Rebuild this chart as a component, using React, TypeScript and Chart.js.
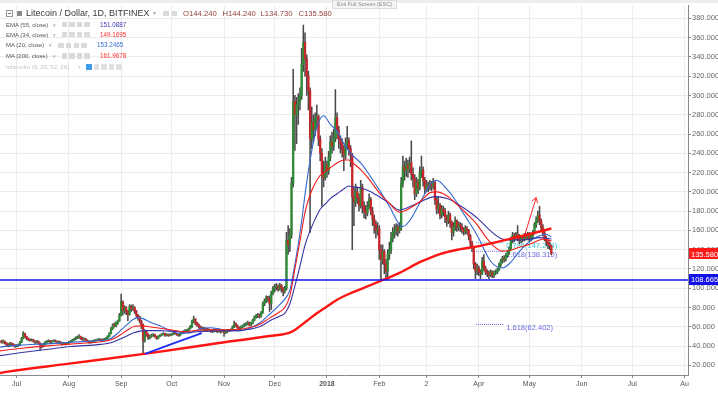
import React, { useEffect, useRef } from "react";
import { Chart, registerables } from "chart.js";

Chart.register(...registerables);

const FONT = '"Liberation Sans", Arial, sans-serif';

// ---- daily candles, day 0 = 1 Jul 2017 ----
const FIRST_DAY = -9; // 22 Jun 2017
const FIRST_OPEN = 45;

const closes = [
  44, 45, 43, 42, 40, 43, 42, 41, 40, // Jun
  40.5, 41, 44, 48, 53, 50, 48, 47, 46, 46.5, 45, 44, 45, 43, 41, 40, 42, 44, 45, 45.5, 44, 45, 45.5, 45, 44, 44.5, 43, 42, 43, 42, 43, // Jul
  44, 45, 46, 47, 48, 49, 50, 48, 47, 47.5, 46, 45, 44, 44.5, 45, 45.5, 46, 46.5, 47, 46, 46.5, 47, 48, 50, 53, 58, 62, 61, 64, 66, 72, // Aug
  86, 77, 80, 76, 73, 81, 79, 80, 76, 72, 70, 66, 62, 46, 55, 52, 49, 50, 51, 52, 50, 48, 50, 51, 52, 53, 51, 52, 51, 52, // Sep
  52, 54, 53, 52, 51, 53, 54, 55, 56, 56.5, 58, 60, 66, 68, 64, 62, 60, 58, 59, 57, 58, 56, 57, 56, 55, 57, 56, 55, 56, 55, 56, // Oct
  54, 55, 56, 56.5, 57, 60, 63, 61, 59, 58, 60, 61, 62, 63, 64, 62, 64, 67, 70, 71, 72, 71, 75, 84, 87, 90, 89, 84, 95, 100, // Nov
  101, 102, 99, 103, 100, 97, 100, 150, 145, 155, 209, 294, 280, 290, 293, 300, 332, 355, 338, 320, 305, 255, 272, 265, 276, 278, 255, 240, 220, 215, 228, // Dec
  222, 236, 252, 247, 256, 277, 264, 255, 250, 244, 238, 250, 253, 245, 238, 195, 190, 200, 194, 186, 205, 185, 180, 178, 184, 192, 180, 172, 166, 160, 162, // Jan
  140, 130, 138, 125, 118, 135, 140, 152, 158, 160, 163, 160, 163, 209, 226, 222, 228, 224, 230, 218, 214, 198, 210, 204, 220, 223, 212, 203, // Feb
  207, 205, 208, 206, 210, 192, 182, 186, 176, 182, 180, 174, 170, 176, 168, 158, 164, 170, 163, 166, 164, 161, 159, 162, 160, 154, 147, 142, 125, 118, 121, // Mar
  117, 115, 128, 121, 117, 116, 114, 117, 113, 116, 117, 119, 124, 128, 131, 130, 134, 137, 141, 150, 155, 152, 156, 152, 150, 153, 151, 155, 152, 156, // Apr
  150, 154, 158, 166, 171, 176, 170, 163, 157, 152, 148, 146, 144.24, 135.58, // May
];

const highs = [
  46, 46.5, 45.5, 44, 42.5, 44, 43.5, 42.5, 41.5,
  41.5, 42, 45, 49, 55, 53.5, 50.5, 48.5, 47.5, 47.5, 47, 45.5, 46, 45.5, 43.5, 42, 43, 45, 46, 46.5, 46, 46, 46.5, 46.5, 45.5, 45.5, 45, 43.5, 44, 43.5, 44,
  45, 46, 47, 48, 49.5, 50.5, 52, 50.5, 49, 48.5, 48, 46.5, 45.5, 45.5, 46, 46.5, 47, 47.5, 48, 47.5, 47.5, 48, 49, 51, 54, 59.5, 63, 64, 65.5, 67, 74,
  94, 87, 82, 81, 77, 83, 82.5, 83, 81, 77, 73, 71, 67, 63, 57, 56, 53, 51.5, 52.5, 53, 52.5, 50.5, 51, 52, 53, 54, 53.5, 53, 52.5, 53,
  53, 55, 54.5, 53.5, 52.5, 54, 55, 56, 57, 57.5, 59, 61.5, 67, 71, 68.5, 65, 63, 61, 60, 59.5, 59, 58.5, 58, 57.5, 56.5, 58, 57.5, 56.5, 57, 56.5, 57,
  56.5, 56, 57, 57.5, 58, 61, 66, 64, 62, 60, 61, 62, 63.5, 64.5, 66, 65, 65, 68, 71.5, 73, 74, 73.5, 76, 86, 89, 92, 91.5, 92, 97, 102,
  104, 105, 103.5, 105, 104, 101, 102, 158, 165, 162, 215, 327, 300, 298, 302, 308, 349, 373, 365, 342, 325, 308, 288, 280, 282, 290, 280, 258, 245, 232, 236,
  232, 242, 258, 262, 265, 306, 282, 268, 258, 255, 248, 256, 268, 256, 248, 240, 205, 208, 205, 198, 212, 208, 190, 186, 190, 198, 194, 184, 176, 170, 168,
  165, 145, 145, 140, 130, 140, 148, 158, 163, 166, 167, 166, 168, 215, 237, 232, 235, 233, 236, 253, 225, 218, 215, 213, 226, 237, 226, 215,
  212, 210, 212, 211, 214, 211, 194, 195, 188, 186, 185, 183, 176, 180, 178, 170, 168, 174, 171, 169, 168, 167, 163, 165, 164, 161, 156, 149, 143, 127, 125,
  123, 119, 132, 135, 123, 119, 118, 119, 118, 118, 119, 121, 126, 130, 133, 134, 136, 139, 143, 153, 158, 157, 158, 165, 156, 155, 155, 157, 157, 158,
  158, 157, 160, 168, 174, 180, 185, 172, 166, 159, 154, 150, 148, 144.24,
];

const lows = [
  43, 43, 42, 40.5, 39, 39.5, 41, 40, 38.5,
  39, 39.5, 40.5, 43.5, 47.5, 48.5, 46.5, 45.5, 45, 45, 44, 42.5, 43, 42, 35.5, 38, 39, 41.5, 43, 44, 43, 43.5, 44.5, 44, 43, 43, 42, 41, 41.5, 41, 41.5,
  42.5, 43.5, 44.5, 45.5, 46.5, 47.5, 48, 47, 46, 46, 45, 44, 43, 43, 43.5, 44.5, 45, 45.5, 45.5, 45, 45.5, 46, 46.5, 47.5, 49.5, 52.5, 57, 59.5, 60, 62.5, 65.5,
  71, 72, 74, 72.5, 66, 72, 76, 77, 74, 70, 67, 64, 58, 32, 44, 50, 47, 47.5, 49, 50, 49, 47, 47.5, 49.5, 50.5, 51.5, 50, 50.5, 50, 50.5,
  51, 51.5, 52, 51, 50, 50.5, 52.5, 53.5, 54.5, 55, 55.5, 57.5, 59, 64, 62, 60.5, 58.5, 56.5, 57, 56, 56, 55, 55.5, 54.5, 54, 54.5, 55, 54, 54.5, 53.5, 54.5,
  50, 53, 54, 55, 55.5, 56.5, 59, 60, 58, 56.5, 57, 59, 60, 61, 62, 61, 61, 63, 66, 69, 69.5, 69, 70, 74, 82, 85, 86, 76, 78, 93,
  96, 98, 97, 98, 96, 92, 95, 98, 135, 138, 152, 205, 243, 250, 270, 285, 296, 325, 320, 300, 285, 158, 245, 252, 258, 266, 248, 232, 185, 205, 212,
  215, 218, 232, 240, 243, 252, 255, 245, 240, 236, 222, 234, 244, 238, 226, 140, 165, 185, 188, 180, 183, 178, 173, 172, 175, 182, 176, 165, 157, 152, 155,
  130, 107, 125, 115, 110, 108, 130, 136, 148, 152, 155, 154, 157, 160, 205, 212, 216, 215, 220, 212, 205, 192, 195, 198, 202, 215, 206, 198,
  200, 200, 202, 201, 203, 187, 177, 178, 172, 173, 175, 168, 164, 167, 163, 150, 154, 160, 159, 160, 159, 157, 155, 156, 156, 150, 143, 138, 120, 110, 114,
  113, 110, 114, 118, 114, 112, 110, 112, 111, 111, 114, 115, 118, 122, 126, 127, 128, 132, 135, 140, 147, 148, 150, 149, 146, 147, 148, 149, 150, 150,
  148, 149, 152, 156, 163, 168, 166, 160, 154, 149, 144, 141, 140, 134.73,
];

// ---- indicator lines: [day, value] ----
const ma20Pts = [[-10,39],[2,41],[20,42.5],[32,44],[50,45.8],[55,47],[61,55],[64,60],[66,63],[69,67.5],[72,69.5],[75,68.5],[79,65],[85,61],[91,56],[97,53],[103,53.5],[109,58],[115,59],[121,57.5],[127,56],[132,56],[138,58.6],[144,64],[150,73],[156,83],[160,91],[162,98],[165,125],[168,157],[172,210],[176,252],[179,272],[182,279],[186,270],[190,263],[194,250],[198,240],[204,230],[209,218],[215,202],[221,185],[227,166],[229,164],[233,170],[237,182],[242,198],[245,207],[249,212],[255,203],[261,189],[264,180],[267,172],[273,155],[281,128],[288,121],[293,127],[298,138],[303,147],[308,153],[314,156],[317,153.25]];
const ema34Pts = [[-10,35],[2,37.5],[20,40.5],[32,42],[50,44.5],[56,46.5],[61,51],[66,57],[70,60.5],[74,61],[79,60],[85,58.5],[91,57],[100,55],[106,56],[112,57],[121,57],[132,57.5],[138,59.3],[144,62.5],[150,69],[156,75.6],[159,80],[162,92],[165,120],[168,149],[171,179],[174,197],[177,209],[180,217],[183,221],[186,225],[190,230],[194,233],[197,233],[200,229],[204,223],[209,213],[215,199],[221,188],[227,179],[231,181],[235,185],[240,191],[245,199],[249,200],[255,196],[261,187],[267,177],[273,166],[278,153.5],[283,143.5],[288,138.5],[293,139.5],[298,142.5],[303,145],[308,148.5],[312,151],[317,149.17]];
const ema55Pts = [[-10,30],[2,33],[20,37],[32,39.5],[50,41.8],[56,43.5],[61,47],[66,51],[70,54],[75,56],[79,56],[85,56],[91,55.5],[103,54.5],[109,55],[121,56],[132,56],[138,57.5],[144,60],[150,66],[156,71],[159,74],[162,83.6],[165,102.5],[168,123],[171,144.8],[174,159.7],[177,171.7],[180,181.9],[183,187.4],[186,193],[190,198],[194,203],[197,206],[200,205],[204,204],[209,201],[215,195],[221,188],[227,181],[231,183],[235,186],[240,190],[245,194],[249,195],[255,193],[261,188],[267,181],[273,173],[280,161],[288,151],[295,150],[303,150.5],[310,152.5],[317,151.09]];
const ma200Pts = [[-10,12],[-6,13.3],[30,21.5],[79,32.7],[120,43.2],[150,50.5],[162,54],[166,58],[172,66],[178,74],[184,81],[190,88],[197,94],[204,99],[215,107],[227,116],[239,127],[251,135.5],[263,140.5],[275,144],[292,151],[305,156.5],[317,161.97]];

// ---- drawings ----
const trendPts = [[76.2, 32.0], [109.8, 53.5]];
const arrowPts = [[301.4, 156.1], [308.0, 194.0]];
const arrowHeadPts = [[305.4, 190.5], [308.0, 194.0], [308.8, 188.3]];
const supportLevel = 108.665;
const lastClose = 135.58;
const fibLevels = [147.279, 138.31, 62.402];
const fibLabels = ["0.786(147.279)", "1.618(138.310)", "1.618(62.402)"];
const fibSpan = [272.4, 288.5];

// ---- axes ----
const X_MIN = -9.8;
const X_MAX = 398;
const Y_MIN = 10;
const Y_MAX = 393.3;
const monthTickDays = [0, 31, 62, 92, 123, 153, 184, 215, 243, 274, 304, 335, 365, 396];
const monthTickLabels = ["Jul", "Aug", "Sep", "Oct", "Nov", "Dec", "2018", "Feb", "2", "Apr", "May", "Jun", "Jul", "Au"];
const priceTicks = [20, 40, 60, 80, 100, 120, 140, 160, 180, 200, 220, 240, 260, 280, 300, 320, 340, 360, 380];

const GREEN = "#2e8b36";
const RED = "#c8262b";
const WICK = "#4a4a4a";

const toXY = (pts: number[][]) => pts.map(([x, y]) => ({ x, y }));

export default function App() {
  const canvasRef = useRef<HTMLCanvasElement>(null);

  useEffect(() => {
    document.body.style.margin = "0";
    const canvas = canvasRef.current;
    if (!canvas) return;

    const opens = closes.map((c, i) => (i === 0 ? FIRST_OPEN : closes[i - 1]));
    const wickData = closes.map((c, i) => ({ x: FIRST_DAY + i, y: [lows[i], highs[i]] }));
    const bodyData = closes.map((c, i) => ({ x: FIRST_DAY + i, y: [opens[i], c] }));
    const bodyColors = closes.map((c, i) => (c >= opens[i] ? GREEN : RED));

    const fibColors = ["#36c6d8", "#6a6ae0", "#6a6ae0"];

    const overlayPlugin = {
      id: "overlay",
      beforeDatasetsDraw(chart: any) {
        const { ctx, scales } = chart;
        const x = scales.x, y = scales.y;
        ctx.save();
        ctx.font = `7.5px ${FONT}`;
        ctx.textBaseline = "middle";
        ctx.textAlign = "left";
        fibLevels.forEach((lvl, i) => {
          ctx.fillStyle = fibColors[i];
          ctx.fillText(fibLabels[i], x.getPixelForValue(fibSpan[1]) + 3, y.getPixelForValue(lvl) + 3.5);
        });
        ctx.restore();
      },
      afterDraw(chart: any) {
        const { ctx, scales, chartArea } = chart;
        const y = scales.y;
        const tags: [number, string][] = [[lastClose, "#ff1a1a"], [supportLevel, "#1212e8"]];
        ctx.save();
        tags.forEach(([v, c]) => {
          const py = y.getPixelForValue(v);
          ctx.fillStyle = c;
          ctx.fillRect(chartArea.right + 1, Math.round(py - 5.5), 40, 11);
          ctx.fillStyle = "#ffffff";
          ctx.font = `7.5px ${FONT}`;
          ctx.textBaseline = "middle";
          ctx.textAlign = "left";
          ctx.fillText(v.toFixed(3), chartArea.right + 3, py + 0.5);
        });
        ctx.restore();
      },
    };

    const lineBase = {
      type: "line" as const,
      pointRadius: 0,
      pointHoverRadius: 0,
      fill: false,
      cubicInterpolationMode: "monotone" as const,
    };

    const chart = new Chart(canvas, {
      type: "bar",
      data: {
        datasets: [
          { ...lineBase, label: "support", data: toXY([[X_MIN, supportLevel], [X_MAX, supportLevel]]), borderColor: "#1414f0", borderWidth: 1.5, order: 0 },
          { ...lineBase, label: "arrow", data: toXY(arrowPts), borderColor: "#ff2a2a", borderWidth: 1, order: 0 },
          { ...lineBase, label: "arrowHead", data: toXY(arrowHeadPts), borderColor: "#ff2a2a", borderWidth: 1, cubicInterpolationMode: "default", tension: 0, order: 0 },
          { ...lineBase, label: "trend", data: toXY(trendPts), borderColor: "#1f2ff5", borderWidth: 1.8, order: 1 },
          { ...lineBase, label: "MA200", data: toXY(ma200Pts), borderColor: "#ff1414", borderWidth: 2.4, order: 1 },
          { ...lineBase, label: "EMA34", data: toXY(ema34Pts), borderColor: "#f21c1c", borderWidth: 1.1, order: 2 },
          { ...lineBase, label: "EMA55", data: toXY(ema55Pts), borderColor: "#3535a8", borderWidth: 1.1, order: 2 },
          { ...lineBase, label: "MA20", data: toXY(ma20Pts), borderColor: "#3468d0", borderWidth: 1.1, order: 2 },
          ...fibLevels.map((lvl, i) => ({
            ...lineBase,
            label: "fib" + i,
            data: toXY([[fibSpan[0], lvl], [fibSpan[1], lvl]]),
            borderColor: fibColors[i],
            borderWidth: 1,
            borderDash: [1, 1],
            order: 3,
          })),
          { type: "bar" as const, label: "body", data: bodyData as any, backgroundColor: bodyColors, borderWidth: 0, barThickness: 1.6, grouped: false, order: 5 },
          { type: "bar" as const, label: "wick", data: wickData as any, backgroundColor: WICK, borderWidth: 0, barThickness: 0.9, grouped: false, order: 6 },
        ] as any,
      },
      options: {
        responsive: false,
        animation: false,
        devicePixelRatio: 1,
        layout: { padding: 0 },
        events: [],
        plugins: { legend: { display: false }, tooltip: { enabled: false } },
        scales: {
          x: {
            type: "linear",
            position: "bottom",
            min: X_MIN,
            max: X_MAX,
            offset: false,
            afterBuildTicks: (axis: any) => {
              axis.ticks = monthTickDays.map((v) => ({ value: v }));
            },
            afterFit: (axis: any) => {
              axis.height = 18;
            },
            grid: { color: "#ececec", offset: false, drawTicks: true, tickLength: 3, tickColor: "#8a8a8a" },
            border: { display: true, color: "#8a8a8a", width: 1 },
            ticks: {
              autoSkip: false,
              maxRotation: 0,
              minRotation: 0,
              padding: 2,
              color: "#555",
              font: (ctx: any) => ({ size: 7, family: FONT, weight: monthTickLabels[ctx.index] === "2018" ? "bold" : "normal" }),
              callback: (_v: any, i: number) => monthTickLabels[i],
            },
          },
          y: {
            type: "linear",
            position: "right",
            min: Y_MIN,
            max: Y_MAX,
            afterBuildTicks: (axis: any) => {
              axis.ticks = priceTicks.map((v) => ({ value: v }));
            },
            afterFit: (axis: any) => {
              axis.width = 30;
            },
            grid: { color: "#ececec", drawTicks: true, tickLength: 3, tickColor: "#8a8a8a" },
            border: { display: true, color: "#8a8a8a", width: 1 },
            ticks: {
              padding: 1,
              color: "#666",
              font: { size: 7.5, family: FONT },
              callback: (v: any) => Number(v).toFixed(3),
            },
          },
        },
      } as any,
      plugins: [overlayPlugin],
    });

    return () => chart.destroy();
  }, []);

  const box = (left: number, top: number, bg = "#dadada") => (
    <div style={{ position: "absolute", left, top, width: 5.5, height: 5.5, background: bg, borderRadius: 0.5 }} />
  );

  const legendRow = (top: number, name: string, caretX: number, boxX: number, valueX: number, value: string, color: string, nameColor = "#555") => (
    <>
      <div style={{ position: "absolute", left: 6, top: top - 4, fontSize: 6, lineHeight: "8px", color: nameColor, whiteSpace: "nowrap" }}>{name}</div>
      <div style={{ position: "absolute", left: caretX, top: top - 4, fontSize: 5, lineHeight: "8px", color: "#aaa" }}>▾</div>
      {[0, 1, 2, 3].map((i) => <React.Fragment key={i}>{box(boxX + i * 7.6, top - 2.8)}</React.Fragment>)}
      <div style={{ position: "absolute", left: valueX, top: top - 4, fontSize: 6.3, lineHeight: "8px", color, whiteSpace: "nowrap" }}>{value}</div>
    </>
  );

  return (
    <div style={{ position: "relative", width: 718, height: 393, background: "#fff", overflow: "hidden", fontFamily: FONT }}>
      <canvas ref={canvasRef} width={718} height={393} style={{ position: "absolute", left: 0, top: 0, width: 718, height: 393 }} />
      <div style={{ position: "absolute", left: 0, top: 0, width: 718, height: 3, background: "#eceef1" }} />
      {/* title row */}
      <div style={{ position: "absolute", left: 6, top: 10, width: 5, height: 5, border: "1px solid #9a9a9a", background: "#fff" }}>
        <div style={{ position: "absolute", left: 1, top: 2, width: 3, height: 1, background: "#777" }} />
      </div>
      <div style={{ position: "absolute", left: 17, top: 10.5, width: 5, height: 5, background: "#8a8a8a" }} />
      <div style={{ position: "absolute", left: 26, top: 7.5, fontSize: 9, lineHeight: "11px", color: "#3a3a3a", whiteSpace: "nowrap" }}>
        Litecoin / Dollar, 1D, BITFINEX
      </div>
      <div style={{ position: "absolute", left: 153, top: 9, fontSize: 6, lineHeight: "8px", color: "#aaa" }}>▾</div>
      {box(163, 10.5)}
      {box(171.5, 10.5)}
      {[["O144.240", 183], ["H144.240", 222.5], ["L134.730", 260.5], ["C135.580", 298.5]].map(([t, l]) => (
        <div key={t as string} style={{ position: "absolute", left: l as number, top: 8.5, fontSize: 7.7, lineHeight: "10px", color: "#93403c", whiteSpace: "nowrap" }}>
          {t}
        </div>
      ))}
      <div style={{ position: "absolute", left: 332, top: 0, width: 63, height: 7, background: "#f5f5f5", border: "1px solid #dcdcdc", fontSize: 5.5, lineHeight: "7px", color: "#8a8a8a", textAlign: "center", whiteSpace: "nowrap" }}>
        Exit Full Screen (ESC)
      </div>
      {/* indicator legend */}
      {legendRow(24.5, "EMA (55, close)", 53, 61.5, 100, "151.0887", "#3c3cb4")}
      {legendRow(34.5, "EMA (34, close)", 53, 61.5, 100, "149.1695", "#ff2d2d")}
      {legendRow(45.3, "MA (20, close)", 49, 58.3, 97, "153.2465", "#3a6fcf")}
      {legendRow(56, "MA (200, close)", 53, 61.5, 100, "161.9678", "#ff2d2d")}
      <div style={{ position: "absolute", left: 6, top: 62.8, fontSize: 6, lineHeight: "8px", color: "#c4c4c4", whiteSpace: "nowrap" }}>Ichimoku (9, 26, 52, 26)</div>
      <div style={{ position: "absolute", left: 78, top: 62.8, fontSize: 5, lineHeight: "8px", color: "#ccc" }}>▾</div>
      {box(86, 64, "#3d9be9")}
      {box(93.6, 64, "#e2e2e2")}
      {box(101.2, 64, "#e2e2e2")}
      {box(108.8, 64, "#e2e2e2")}
      {box(116.4, 64, "#e2e2e2")}
    </div>
  );
}
